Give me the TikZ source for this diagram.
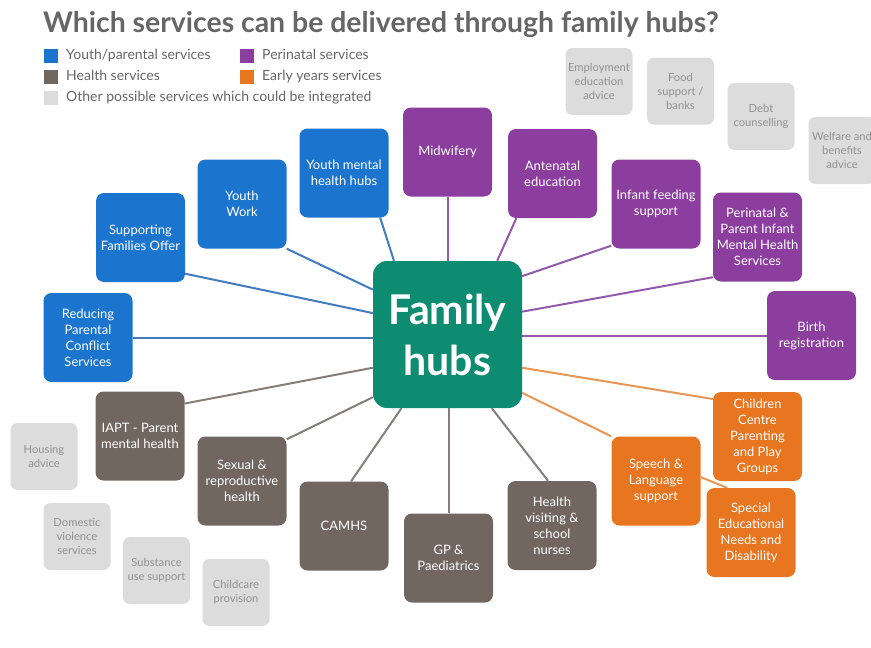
\documentclass[tikz,border=0pt]{standalone}
\usepackage{fontspec}
\setmainfont{Lato}
\usetikzlibrary{backgrounds}
\definecolor{hubteal}{RGB}{14,140,114}
\definecolor{youthblue}{RGB}{27,117,207}
\definecolor{peripurple}{RGB}{140,62,158}
\definecolor{healthbrown}{RGB}{113,103,96}
\definecolor{earlyorange}{RGB}{232,117,32}
\definecolor{othergrey}{RGB}{220,220,220}
\definecolor{othertext}{RGB}{145,145,145}
\definecolor{titlegrey}{RGB}{102,102,102}
\definecolor{blueline}{RGB}{66,124,192}
\definecolor{purpleline}{RGB}{146,90,168}
\definecolor{brownline}{RGB}{134,126,120}
\definecolor{orangeline}{RGB}{233,150,84}

\tikzset{
  svc/.style={rounded corners=8pt, minimum width=89pt, minimum height=89pt, inner sep=2pt,
    align=center, text=white, font=\fontsize{13}{16}\selectfont},
  bluebox/.style={svc, fill=youthblue},
  purplebox/.style={svc, fill=peripurple},
  brownbox/.style={svc, fill=healthbrown},
  orangebox/.style={svc, fill=earlyorange},
  greybox/.style={rounded corners=7pt, fill=othergrey, minimum width=67pt, minimum height=67pt,
    inner sep=1pt, align=center, text=othertext, font=\fontsize{11.2}{14}\selectfont},
  link/.style={line width=2pt},
  key/.style={minimum size=14pt, inner sep=0pt},
  keytext/.style={anchor=west, inner sep=0pt, text height=10pt, text depth=3pt, text=titlegrey,
    font=\fontsize{14}{16}\selectfont},
}

\begin{document}
\begin{tikzpicture}[x=1pt,y=-1pt]
        \useasboundingbox (0,0) rectangle (871,648);
        \node[anchor=base west, inner sep=0pt, text=titlegrey, font=\fontsize{28.4}{32}\selectfont\bfseries] (title) at (43,32)
            {Which services can be delivered through family hubs?};
        \node[key, fill=youthblue] (kyouth) at (51,56) {};
        \node[keytext] (tyouth) at (66,56) {Youth/parental services};
        \node[key, fill=peripurple] (kperi) at (247,56) {};
        \node[keytext] (tperi) at (262,56) {Perinatal services};
        \node[key, fill=healthbrown] (khealth) at (51,77) {};
        \node[keytext] (thealth) at (66,77) {Health services};
        \node[key, fill=earlyorange] (kearly) at (247,77) {};
        \node[keytext] (tearly) at (262,77) {Early years services};
        \node[key, fill=othergrey] (kother) at (51,98) {};
        \node[keytext] (tother) at (66,98) {Other possible services which could be integrated};

        \node[rounded corners=14pt, fill=hubteal, minimum width=149pt, minimum height=147pt, align=center,
            text=white, font=\fontsize{41}{51}\selectfont\bfseries] (hub) at (447.5,334.5) {Family\\hubs};

        \node[bluebox] (rpc) at (88,337.5) {Reducing\\Parental\\Conflict\\Services};
        \node[bluebox] (sfo) at (140.5,237.5) {Supporting\\Families Offer};
        \node[bluebox] (ywork) at (242,204) {Youth\\Work};
        \node[bluebox] (ymhh) at (344,173) {Youth mental\\health hubs};

        \node[purplebox] (midwife) at (447.5,152) {Midwifery};
        \node[purplebox] (antenatal) at (552.5,173.5) {Antenatal\\education};
        \node[purplebox] (infant) at (656,204) {Infant feeding\\support};
        \node[purplebox] (pimh) at (757.5,237) {Perinatal \&\\Parent Infant\\Mental Health\\Services};
        \node[purplebox] (birth) at (811.5,335.5) {Birth\\registration};

        \node[orangebox] (centre) at (757.5,436.5) {Children\\Centre\\Parenting\\and Play\\Groups};
        \node[orangebox] (speech) at (656,481) {Speech \&\\Language\\support};
        \node[orangebox] (send) at (751,532.5) {Special\\Educational\\Needs and\\Disability};

        \node[brownbox] (visiting) at (552,525.5) {Health\\visiting \&\\school\\nurses};
        \node[brownbox] (gp) at (448.5,558) {GP \&\\Paediatrics};
        \node[brownbox] (camhs) at (344,526) {CAMHS};
        \node[brownbox] (sexual) at (242,481) {Sexual \&\\reproductive\\health};
        \node[brownbox] (iapt) at (140,436) {IAPT - Parent\\mental health};

        \node[greybox] (employ) at (599,81.5) {Employment\\education\\advice};
        \node[greybox] (food) at (680.5,91) {Food\\support /\\banks};
        \node[greybox] (debt) at (761,116.5) {Debt\\counselling};
        \node[greybox] (welfare) at (842,150.5) {Welfare and\\benefits\\advice};
        \node[greybox] (housing) at (44,456.5) {Housing\\advice};
        \node[greybox] (domestic) at (77,536.5) {Domestic\\violence\\services};
        \node[greybox] (substance) at (156.5,570.5) {Substance\\use support};
        \node[greybox] (childcare) at (236,592.5) {Childcare\\provision};

        \begin{scope}[on background layer]
        \draw[link, blueline] (rpc.east) -- (rpc.east -| hub.west);
        \draw[link, blueline] (sfo.-39) -- (hub.164);
        \draw[link, blueline] (ywork.-45) -- (hub.149);
        \draw[link, blueline] (ymhh.-51) -- (hub.126);
        \draw[link, purpleline] (midwife.south) -- (midwife.south |- hub.north);
        \draw[link, purpleline] (antenatal.-129) -- (hub.56);
        \draw[link, purpleline] (infant.223) -- (hub.38);
        \draw[link, purpleline] (pimh.222) -- (hub.17);
        \draw[link, purpleline] (birth.west) -- (birth.west -| hub.east);
        \draw[link, orangeline] (centre.140) -- (hub.-24);
        \draw[link, orangeline] (speech.135) -- (hub.-38);
        \draw[link, orangeline] (speech.5) -- (send.118);
        \draw[link, brownline] (visiting.95) -- (hub.-59);
        \draw[link, brownline] (gp.north) -- (gp.north |- hub.south);
        \draw[link, brownline] (camhs.81) -- (hub.238);
        \draw[link, brownline] (sexual.43) -- (hub.220);
        \draw[link, brownline] (iapt.36) -- (hub.204);
        \end{scope}
\end{tikzpicture}
\end{document}
